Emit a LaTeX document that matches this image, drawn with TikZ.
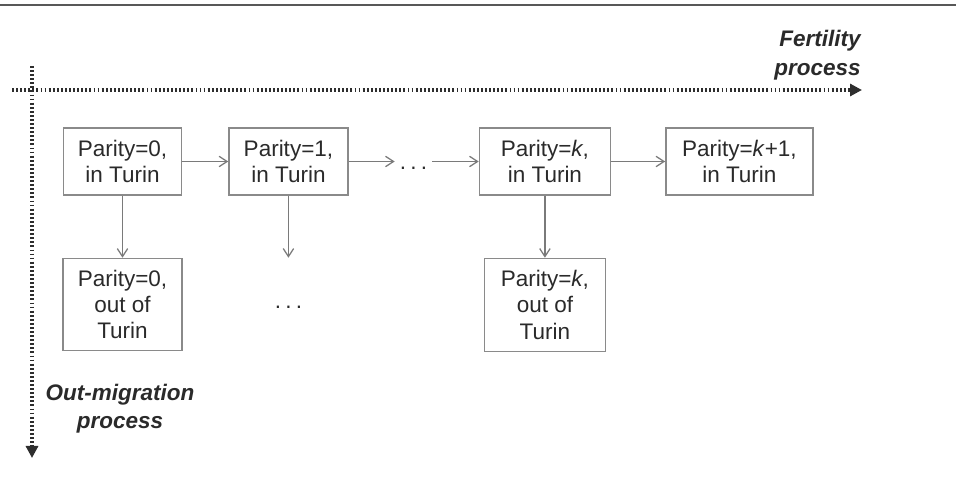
\documentclass[tikz,border=0pt]{standalone}
\usepackage{fontspec}
\setmainfont{Liberation Sans}
\usepackage{tikz}
\usetikzlibrary{arrows.meta, positioning}
\definecolor{turinbox}{HTML}{8A8A8A}
\definecolor{turinline}{HTML}{7A7A7A}
\definecolor{turinaxis}{HTML}{2E2E2E}
\definecolor{turintext}{HTML}{2A2A2A}
\newcommand{\turindots}{.\kern3pt.\kern3pt.}

\begin{document}
\begin{tikzpicture}[
    x=0.025cm, y=-0.025cm,
    every node/.style={font=\fontsize{16}{18.5}\selectfont, text=turintext},
    statebox/.style={rectangle, draw=turinbox, line width=1pt, align=center, minimum height=#1, inner sep=2pt},
    statebox/.default=1.675cm,
    flow/.style={draw=turinline, line width=0.9pt, -{Straight Barb[length=2mm, width=2.6mm]}},
    axis/.style={draw=turinaxis, line width=2.2pt, dash pattern=on 1.3pt off 1.6pt, -{Triangle[length=3mm, width=3mm]}},
    axislabel/.style={font=\fontsize{16}{20}\selectfont\bfseries\itshape, align=#1, inner sep=0pt},
]
\useasboundingbox (0,0) rectangle (956,479);
\draw[line width=0.5mm, turinaxis!80] (0,5) -- (956,5);

% process axes
\coordinate (hstart) at (12,90);
\coordinate (fend) at (862,90);
\coordinate (vstart) at (32,66);
\coordinate (mend) at (32,458);
\draw[axis] (hstart) -- (fend);
\draw[axis] (vstart) -- (mend);
\node[axislabel=right, anchor=south east] (fert) at (861,80) {Fertility\\process};
\node[axislabel=center] (outmig) at (120,409) {Out-migration\\process};

% states in Turin
\node[statebox, minimum width=2.95cm] (p0) at (122.5,161.5) {Parity=0,\\in Turin};
\node[statebox, minimum width=2.975cm, right=1.15cm of p0] (p1) {Parity=1,\\in Turin};
\node[inner xsep=3.5pt, right=0cm of p1, xshift=1.15cm, yshift=-1.6mm] (d1) {\turindots};
\node[statebox, minimum width=3.275cm, right=3.25cm of p1] (pk) {Parity=\textit{k},\\in Turin};
\node[statebox, minimum width=3.675cm, right=1.35cm of pk] (pk1) {Parity=\textit{k}+1,\\in Turin};

% states out of Turin
\node[statebox=2.3cm, minimum width=2.975cm, below=1.55cm of p0] (o0) {Parity=0,\\out of\\Turin};
\node[statebox=2.325cm, minimum width=3.025cm, below=1.55cm of pk] (ok) {Parity=\textit{k},\\out of\\Turin};
\coordinate[below=1.55cm of p1] (e1);
\node[below=1.075cm of e1] (d2) {\turindots};

\draw[flow] (p0) -- (p1);
\draw[flow] (p1) -- (p1 -| d1.west);
\draw[flow] (d1.east |- pk) -- (pk);
\draw[flow] (pk) -- (pk1);
\draw[flow] (p0) -- (o0);
\draw[flow] (p1.south) -- (e1);
\draw[flow] (pk) -- (ok);

\end{tikzpicture}
\end{document}
